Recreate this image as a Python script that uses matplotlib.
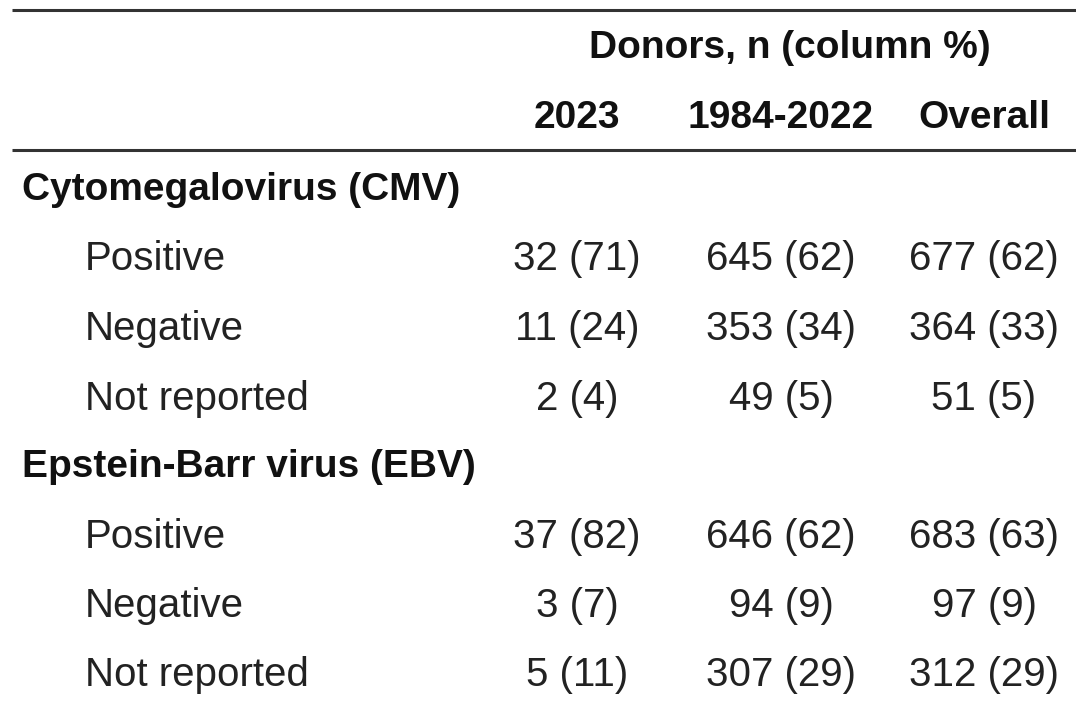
import matplotlib.pyplot as plt
from matplotlib import font_manager

# table contents
col_header = "Donors, n (column %)"
columns = ["2023", "1984-2022", "Overall"]
groups = ["Cytomegalovirus (CMV)", "Epstein-Barr virus (EBV)"]
statuses = ["Positive", "Negative", "Not reported"]

cmv_2023 = [32, 11, 2]
cmv_2023_pct = [71, 24, 4]
cmv_past = [645, 353, 49]
cmv_past_pct = [62, 34, 5]
cmv_all = [677, 364, 51]
cmv_all_pct = [62, 33, 5]

ebv_2023 = [37, 3, 5]
ebv_2023_pct = [82, 7, 11]
ebv_past = [646, 94, 307]
ebv_past_pct = [62, 9, 29]
ebv_all = [683, 97, 312]
ebv_all_pct = [63, 9, 29]

# pick a narrow bold font for headers if there is one
names = set(f.name for f in font_manager.fontManager.ttflist)
if "Liberation Sans Narrow" in names:
    head_font = "Liberation Sans Narrow"
    head_size = 33
else:
    head_font = "Liberation Sans"
    head_size = 28
body_font = "Liberation Sans"
body_size = 29

fig = plt.figure(figsize=(10.76, 7.06), dpi=100)
ax = fig.add_axes([0, 0, 1, 1])
ax.set_xlim(0, 1076)
ax.set_ylim(706, 0)
ax.axis("off")

line_color = "#333333"
ax.plot([12, 1076], [10, 10], color=line_color, lw=2.2, solid_capstyle="butt")
ax.plot([12, 1076], [150, 150], color=line_color, lw=2.2, solid_capstyle="butt")

col_x = [577, 781, 984]
label_x = 22
sub_x = 85

ax.text(790, 48, col_header, fontfamily=head_font, fontweight="bold",
        fontsize=head_size, ha="center", va="center", color="#111111")
for x, c in zip(col_x, columns):
    ax.text(x, 118, c, fontfamily=head_font, fontweight="bold",
            fontsize=head_size, ha="center", va="center", color="#111111")

group_data = [
    [(cmv_2023, cmv_2023_pct), (cmv_past, cmv_past_pct), (cmv_all, cmv_all_pct)],
    [(ebv_2023, ebv_2023_pct), (ebv_past, ebv_past_pct), (ebv_all, ebv_all_pct)],
]
group_y = [190, 467]
row_step = 69.5

for g, gy, gdata in zip(groups, group_y, group_data):
    ax.text(label_x, gy, g, fontfamily=head_font, fontweight="bold",
            fontsize=head_size, ha="left", va="center", color="#111111")
    for i, s in enumerate(statuses):
        y = gy + (i + 1) * row_step
        ax.text(sub_x, y, s, fontfamily=body_font, fontsize=body_size,
                ha="left", va="center", color="#222222")
        for x, (n, pct) in zip(col_x, gdata):
            ax.text(x, y, f"{n[i]} ({pct[i]})", fontfamily=body_font,
                    fontsize=body_size, ha="center", va="center", color="#222222")

fig.savefig("out.png", dpi=100, facecolor="white")
